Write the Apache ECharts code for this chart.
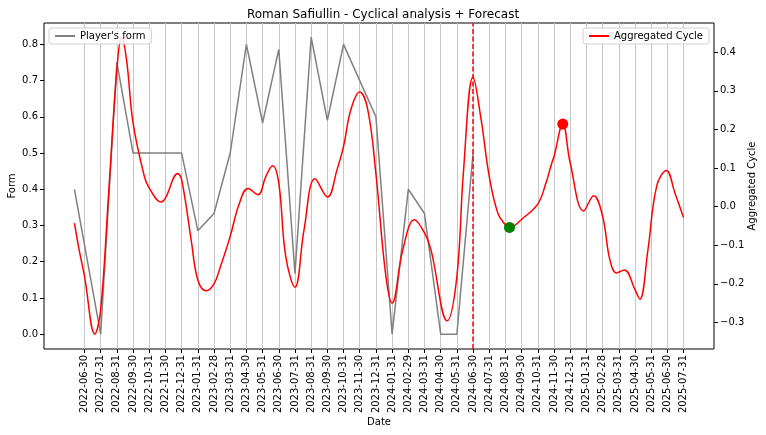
<!DOCTYPE html>
<html>
<head>
<meta charset="utf-8">
<script src="https://cdn.jsdelivr.net/npm/echarts@6/dist/echarts.min.js"></script>
<style>
html,body{margin:0;padding:0;background:#fff;}
#chart{width:766px;height:435px;}
</style>
</head>
<body>
<div id="chart"></div>
<script>
// Month-end tick labels (x position = index)
const tickLabels = ['2022-06-30','2022-07-31','2022-08-31','2022-09-30','2022-10-31','2022-11-30','2022-12-31',
'2023-01-31','2023-02-28','2023-03-31','2023-04-30','2023-05-31','2023-06-30','2023-07-31','2023-08-31','2023-09-30','2023-10-31','2023-11-30','2023-12-31',
'2024-01-31','2024-02-29','2024-03-31','2024-04-30','2024-05-31','2024-06-30','2024-07-31','2024-08-31','2024-09-30','2024-10-31','2024-11-30','2024-12-31',
'2025-01-31','2025-02-28','2025-03-31','2025-04-30','2025-05-31','2025-06-30','2025-07-31'];

// Player's form (x in months from 2022-06-30)
const formX = [-0.62,1,2,3,4,5,6,7,8,9,10,11,12,13,14,15,16,17,18,19,20,21,22,23,24];
const formY = [0.4,0.0,0.75,0.5,0.5,0.5,0.5,0.2857,0.333,0.5,0.8,0.583,0.786,0.167,0.82,0.59,0.8,0.7,0.6,0.0,0.4,0.333,0.0,0.0,0.5];

// Aggregated cycle
const cycleX = [-0.62,-0.33,0,0.64,1,1.5,2,2.29,2.6,3,3.7,4,4.73,5,5.76,6,6.59,7,7.52,8,8.4,9,9.54,10.1,10.72,11.2,11.62,12,12.43,13,13.56,14.24,15.01,15.6,16,16.45,17,17.5,18,18.6,19,19.66,20.38,21,21.4,22.4,23,23.4,24,24.5,25,25.53,26,26.25,27.08,28,28.5,28.84,29,29.54,30,30.83,31.45,32,32.45,32.86,33.34,34,34.3,34.8,35.34,35.94,36.47,37];
const cycleY = [-0.043,-0.112,-0.18,-0.33,-0.267,0.04,0.355,0.439,0.38,0.217,0.078,0.048,0.012,0.022,0.086,0.07,-0.086,-0.19,-0.218,-0.2,-0.155,-0.077,0.005,0.047,0.031,0.078,0.106,0.061,-0.129,-0.209,-0.06,0.072,0.025,0.096,0.156,0.251,0.297,0.251,0.085,-0.175,-0.25,-0.112,-0.034,-0.068,-0.112,-0.296,-0.181,0.087,0.336,0.225,0.078,-0.017,-0.047,-0.054,-0.03,0.007,0.061,0.11,0.13,0.214,0.113,-0.011,0.028,-0.025,-0.138,-0.172,-0.164,-0.215,-0.24,-0.112,0.053,0.094,0.035,-0.028];

const forecastStart = 24;        // 2024-06-30
const troughPoint = [26.25, -0.054];
const peakPoint = [29.54, 0.214];
const formTicks = [0,0.1,0.2,0.3,0.4,0.5,0.6,0.7,0.8];
const cycleTicks = [-0.3,-0.2,-0.1,0,0.1,0.2,0.3,0.4];

const FONT = 'DejaVu Sans';
const chart = echarts.init(document.getElementById('chart'), null, {renderer:'canvas'});
const fmtNum = v => (v < 0 ? '\u2212' + Math.abs(v).toFixed(1) : v.toFixed(1));

chart.setOption({
  animation:false,
  backgroundColor:'#fff',
  textStyle:{fontFamily:FONT},
  title:{text:'Roman Safiullin - Cyclical analysis + Forecast',left:'center',top:4,
    textStyle:{fontFamily:FONT,fontSize:12,fontWeight:'normal',color:'#000'}},
  legend:[
    {data:["Player's form"],left:49,top:28,orient:'vertical',padding:[3,6,3,6],itemWidth:20,itemHeight:2,icon:'rect',
     borderColor:'#d0d0d0',borderWidth:1,borderRadius:3,backgroundColor:'rgba(255,255,255,0.8)',
     textStyle:{fontFamily:FONT,fontSize:10,color:'#000'}},
    {data:['Aggregated Cycle'],right:57,top:28,orient:'vertical',padding:[3,6,3,6],itemWidth:20,itemHeight:2,icon:'rect',
     borderColor:'#d0d0d0',borderWidth:1,borderRadius:3,backgroundColor:'rgba(255,255,255,0.8)',
     textStyle:{fontFamily:FONT,fontSize:10,color:'#000'}}
  ],
  grid:{left:44,right:52,top:23,bottom:86,containLabel:false,outerBoundsMode:'none',
    show:true,borderColor:'#000',borderWidth:1,backgroundColor:'transparent'},
  xAxis:{type:'value',min:-2.5,max:38.88,name:'Date',nameLocation:'middle',nameGap:68,nameMoveOverlap:false,
    nameTextStyle:{fontFamily:FONT,fontSize:10,color:'#000'},
    axisLine:{show:false,onZero:false},
    axisTick:{show:true,length:4,lineStyle:{color:'#000'},customValues:tickLabels.map((_,i)=>i)},
    axisLabel:{rotate:90,fontFamily:FONT,fontSize:10,color:'#000',margin:6,
      customValues:tickLabels.map((_,i)=>i),formatter:v=>tickLabels[Math.round(v)]},
    splitLine:{show:true,lineStyle:{color:'#c8c8c8',width:1}}},
  yAxis:[
    {type:'value',min:-0.041,max:0.859,name:'Form',nameLocation:'middle',nameGap:27,nameRotate:90,nameMoveOverlap:false,
     nameTextStyle:{fontFamily:FONT,fontSize:10,color:'#000'},
     axisLine:{show:false,onZero:false},splitLine:{show:false},
     axisTick:{show:true,length:4,lineStyle:{color:'#000'},customValues:formTicks},
     axisLabel:{fontFamily:FONT,fontSize:10,color:'#000',margin:6,customValues:formTicks,formatter:fmtNum}},
    {type:'value',min:-0.369,max:0.476,position:'right',name:'Aggregated Cycle',nameLocation:'middle',nameGap:33,nameRotate:90,nameMoveOverlap:false,
     nameTextStyle:{fontFamily:FONT,fontSize:10,color:'#000'},
     axisLine:{show:false,onZero:false},splitLine:{show:false},
     axisTick:{show:true,length:4,lineStyle:{color:'#000'},customValues:cycleTicks},
     axisLabel:{fontFamily:FONT,fontSize:10,color:'#000',margin:6,customValues:cycleTicks,formatter:fmtNum}}
  ],
  series:[
    {name:"Player's form",type:'line',yAxisIndex:0,showSymbol:false,
     data:formX.map((x,i)=>[x,formY[i]]),
     lineStyle:{color:'#808080',width:1.5},itemStyle:{color:'#808080'},
     markLine:{silent:true,symbol:'none',label:{show:false},
       lineStyle:{color:'red',type:[5,2.5],width:1.5},
       data:[{xAxis:forecastStart}]}},
    {name:'Aggregated Cycle',type:'line',yAxisIndex:1,showSymbol:false,smooth:0.4,
     data:cycleX.map((x,i)=>[x,cycleY[i]]),
     lineStyle:{color:'#ff0000',width:1.5},itemStyle:{color:'#ff0000'}},
    {type:'scatter',yAxisIndex:1,symbolSize:11,data:[troughPoint],itemStyle:{color:'#008000',opacity:1},z:5},
    {type:'scatter',yAxisIndex:1,symbolSize:11,data:[peakPoint],itemStyle:{color:'#ff0000',opacity:1},z:5}
  ]
});
</script>
</body>
</html>
